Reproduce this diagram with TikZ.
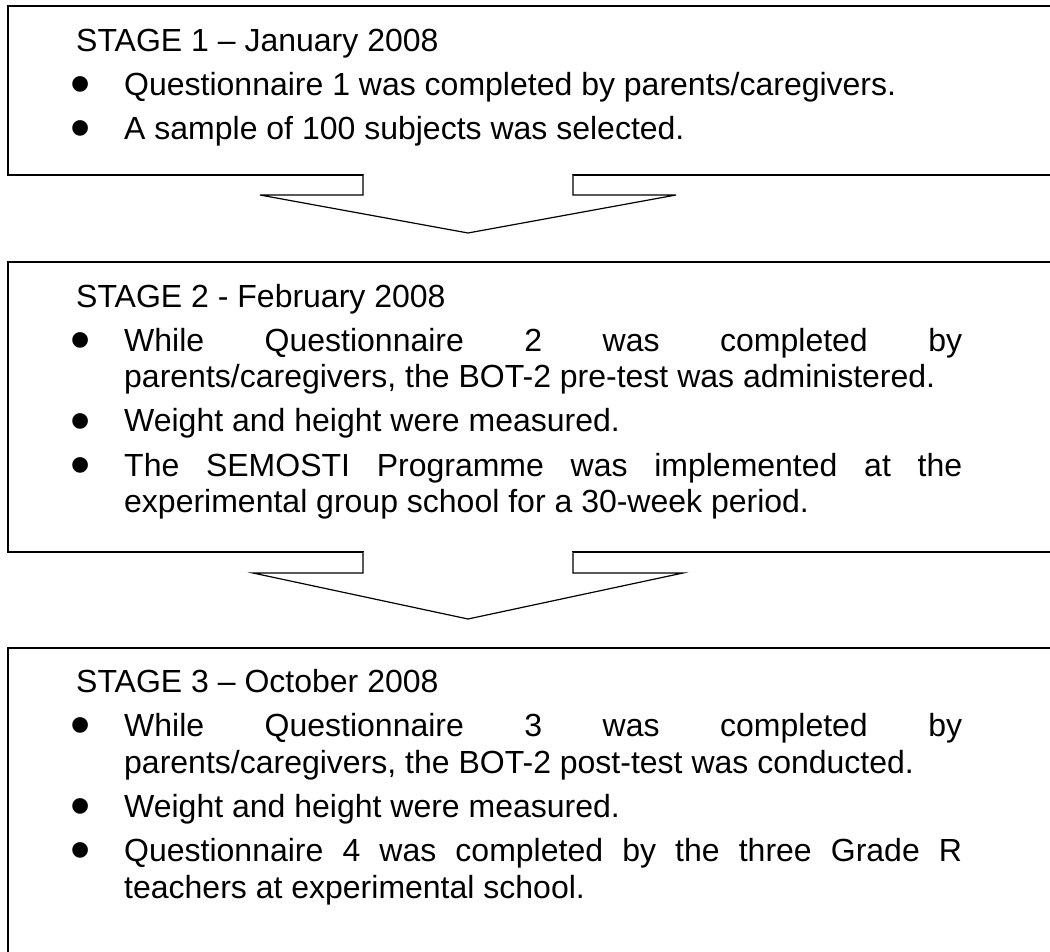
\documentclass[tikz,border=0pt]{standalone}
\usepackage{fontspec}
\usepackage{graphicx}
\setmainfont{Liberation Sans}

\newcommand\stagebullet{\makebox[48pt][l]{\hspace*{-6pt}\raisebox{-8pt}{\scalebox{1.8}{\textbullet}}}}
\newcommand\stageitem{\par\noindent\hangindent=48pt\hangafter=1\stagebullet}
\newcommand\stagesetup{\setlength\parskip{7pt}\hyphenpenalty=10000\exhyphenpenalty=10000}

\begin{document}
\begin{tikzpicture}[x=1pt,y=-1pt,
  stagebox/.style={draw,line width=1.8pt,inner sep=0pt,outer sep=0pt,anchor=north west,minimum width=1072pt},
  stagetext/.style={anchor=base west,inner sep=0pt,font=\fontsize{32pt}{37pt}\selectfont},
  blockarrow/.style={draw,fill=white,line width=1.2pt,line join=miter}]

\useasboundingbox (0,0) rectangle (1050,952);

% Boxes
\node[stagebox,minimum height=169pt] (stage1) at (8,6) {};
\node[stagebox,minimum height=290pt] (stage2) at (8,262) {};
\node[stagebox,minimum height=360pt] (stage3) at (8,648) {};

% Arrows
\fill[white] ([xshift=356pt,yshift=2pt]stage1.south west) rectangle ++(208,4);
\draw[blockarrow] ([xshift=355pt]stage1.south west) -- ++(0,20) -- ++(-103,0) -- ++(208,38) -- ++(208,-38) -- ++(-103,0) -- ++(0,-20);

\fill[white] ([xshift=356pt,yshift=2pt]stage2.south west) rectangle ++(208,4);
\draw[blockarrow] ([xshift=355pt]stage2.south west) -- ++(0,21) -- ++(-110,0) -- ++(215,46) -- ++(215,-46) -- ++(-110,0) -- ++(0,-21);

% Texts
\node[stagetext] (text1) at (76,52) {\parbox[t]{886pt}{\stagesetup
STAGE 1 – January 2008
\stageitem Questionnaire 1 was completed by parents/caregivers.
\stageitem A sample of 100 subjects was selected.}};

\node[stagetext] (text2) at (76,307) {\parbox[t]{886pt}{\stagesetup
STAGE 2 - February 2008
\stageitem While Questionnaire 2 was completed by\linebreak parents/caregivers, the BOT-2 pre-test was administered.
\stageitem Weight and height were measured.
\stageitem The SEMOSTI Programme was implemented at the\linebreak experimental group school for a 30-week period.}};

\node[stagetext] (text3) at (76,692) {\parbox[t]{886pt}{\stagesetup
STAGE 3 – October 2008
\stageitem While Questionnaire 3 was completed by\linebreak parents/caregivers, the BOT-2 post-test was conducted.
\stageitem Weight and height were measured.
\stageitem Questionnaire 4 was completed by the three Grade R\linebreak teachers at experimental school.}};

\end{tikzpicture}
\end{document}
